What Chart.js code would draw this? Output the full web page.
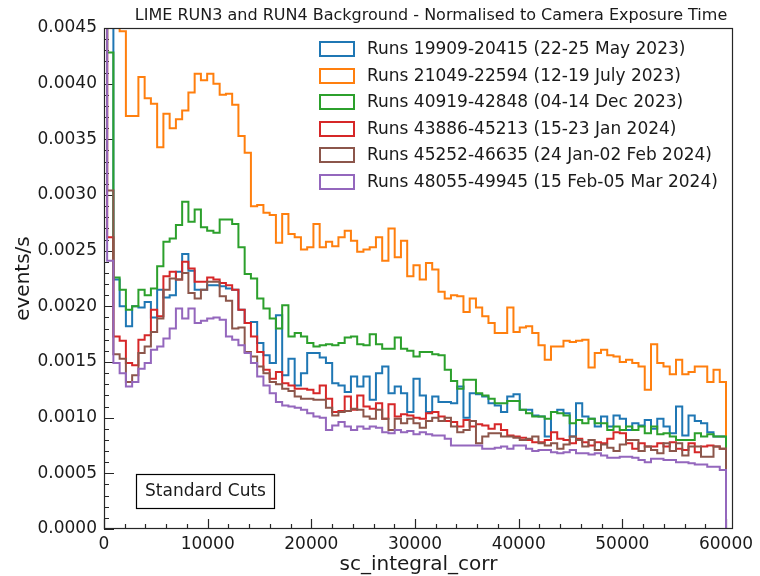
<!DOCTYPE html>
<html>
<head>
<meta charset="utf-8">
<script src="https://cdn.jsdelivr.net/npm/chart.js@4.4.1/dist/chart.umd.min.js"></script>
<style>
  html, body { margin: 0; padding: 0; background: #ffffff; }
  canvas { display: block; }
</style>
</head>
<body>
<canvas id="chart" width="760" height="576"></canvas>
<script>
// histogram binning (100 bins ending at 60000)
var binStart = -300;
var binWidth = 603;

var xTicks = [0, 10000, 20000, 30000, 40000, 50000, 60000];
var yTicks = [0, 0.0005, 0.001, 0.0015, 0.002, 0.0025, 0.003, 0.0035, 0.004, 0.0045];

var seriesLabels = [
  'Runs 19909-20415 (22-25 May 2023)',
  'Runs 21049-22594 (12-19 July 2023)',
  'Runs 40919-42848 (04-14 Dec 2023)',
  'Runs 43886-45213 (15-23 Jan 2024)',
  'Runs 45252-46635 (24 Jan-02 Feb 2024)',
  'Runs 48055-49945 (15 Feb-05 Mar 2024)'
];
var seriesColors = ['#1f77b4', '#ff7f0e', '#2ca02c', '#d62728', '#8c564b', '#9467bd'];

var runsMay2023 = [
  0.0060, 0.0050, 0.00224, 0.00200, 0.00182, 0.00200, 0.00199, 0.00204, 0.00190, 0.00215,
  0.00208, 0.00210, 0.00231, 0.00247, 0.00232, 0.00215, 0.00215, 0.00219, 0.00219, 0.00218,
  0.00216, 0.00215, 0.00197, 0.00185, 0.00186, 0.00167, 0.00156, 0.00149, 0.00192, 0.00138,
  0.00153, 0.00129, 0.00140, 0.00158, 0.00158, 0.00154, 0.00149, 0.00131, 0.00129, 0.00123,
  0.00137, 0.00128, 0.00137, 0.00116, 0.00140, 0.00146, 0.00122, 0.00128, 0.00122, 0.00105,
  0.00135, 0.00120, 0.00105, 0.00119, 0.00114, 0.00114, 0.00113, 0.00128, 0.00100, 0.00122,
  0.00121, 0.00119, 0.00113, 0.00111, 0.00105, 0.00119, 0.00121, 0.00107, 0.00107, 0.00102,
  0.00101, 0.00083, 0.00105, 0.00107, 0.00104, 0.00083, 0.00113, 0.00101, 0.00099, 0.00092,
  0.00101, 0.00092, 0.00102, 0.00099, 0.00089, 0.00095, 0.00093, 0.00098, 0.00090, 0.00099,
  0.00092, 0.00086, 0.00110, 0.00084, 0.00102, 0.00097, 0.00095, 0.00087, 0.00083, 0.00083
];
var runsJul2023 = [
  0.0060, 0.0055, 0.0050, 0.00447, 0.00371, 0.00371, 0.00406, 0.00387, 0.00382, 0.00343,
  0.00373, 0.00360, 0.00368, 0.00376, 0.00392, 0.00409, 0.00403, 0.00409, 0.00400, 0.00390,
  0.00391, 0.00381, 0.00353, 0.00338, 0.00290, 0.00291, 0.00284, 0.00282, 0.00257, 0.00283,
  0.00265, 0.00262, 0.00251, 0.00253, 0.00274, 0.00253, 0.00258, 0.00254, 0.00262, 0.00268,
  0.00259, 0.00249, 0.00251, 0.00253, 0.00262, 0.00241, 0.00270, 0.00244, 0.00259, 0.00227,
  0.00237, 0.00224, 0.00239, 0.00233, 0.00213, 0.00207, 0.00210, 0.00209, 0.00195, 0.00207,
  0.00199, 0.00191, 0.00185, 0.00176, 0.00176, 0.00199, 0.00177, 0.00181, 0.00182, 0.00176,
  0.00165, 0.00152, 0.00164, 0.00164, 0.00169, 0.00168, 0.00169, 0.00170, 0.00145, 0.00158,
  0.00161, 0.00156, 0.00155, 0.00150, 0.00152, 0.00149, 0.00146, 0.00125, 0.00166, 0.00149,
  0.00146, 0.00139, 0.00152, 0.00139, 0.00141, 0.00146, 0.00146, 0.00132, 0.00143, 0.00132
];
var runsDec2023 = [
  0.0060, 0.00428, 0.00226, 0.00215, 0.00197, 0.00200, 0.00215, 0.00210, 0.00216, 0.00236,
  0.00258, 0.00261, 0.00273, 0.00294, 0.00276, 0.00287, 0.00271, 0.00268, 0.00266, 0.00278,
  0.00278, 0.00274, 0.00253, 0.00229, 0.00225, 0.00207, 0.00198, 0.00189, 0.00180, 0.00201,
  0.00173, 0.00176, 0.00173, 0.00167, 0.00164, 0.00165, 0.00166, 0.00165, 0.00167, 0.00172,
  0.00173, 0.00166, 0.00165, 0.00175, 0.00166, 0.00162, 0.00162, 0.00172, 0.00162, 0.00160,
  0.00155, 0.00159, 0.00159, 0.00157, 0.00156, 0.00143, 0.00133, 0.00126, 0.00134, 0.00134,
  0.00122, 0.00120, 0.00117, 0.00113, 0.00113, 0.00115, 0.00115, 0.00107, 0.00104, 0.00101,
  0.00101, 0.00099, 0.00105, 0.00104, 0.00102, 0.00095, 0.00098, 0.00095, 0.00099, 0.00095,
  0.00095, 0.00089, 0.00092, 0.00089, 0.00092, 0.00089, 0.00092, 0.00086, 0.00092, 0.00085,
  0.00086, 0.00083, 0.00080, 0.00080, 0.00080, 0.00086, 0.00083, 0.00085, 0.00083, 0.00083
];
var runsJan2024 = [
  0.0060, 0.00262, 0.00173, 0.00169, 0.00149, 0.00147, 0.00170, 0.00174, 0.00197, 0.00191,
  0.00227, 0.00231, 0.00224, 0.00240, 0.00234, 0.00222, 0.00222, 0.00226, 0.00224, 0.00221,
  0.00219, 0.00215, 0.00197, 0.00185, 0.00173, 0.00159, 0.00143, 0.00135, 0.00141, 0.00131,
  0.00129, 0.00126, 0.00126, 0.00125, 0.00122, 0.00129, 0.00117, 0.00105, 0.00106, 0.00119,
  0.00107, 0.00120, 0.00110, 0.00108, 0.00113, 0.00099, 0.00112, 0.00101, 0.00103, 0.00102,
  0.00100, 0.00099, 0.00104, 0.00105, 0.00101, 0.00097, 0.00096, 0.00092, 0.00098, 0.00092,
  0.00094, 0.00093, 0.00090, 0.00094, 0.00089, 0.00084, 0.00083, 0.00082, 0.00080, 0.00078,
  0.00078, 0.00080, 0.00087, 0.00081, 0.00080, 0.00077, 0.00081, 0.00078, 0.00075, 0.00078,
  0.00077, 0.00081, 0.00087, 0.00086, 0.00077, 0.00072, 0.00077, 0.00074, 0.00074, 0.00077,
  0.00074, 0.00078, 0.00072, 0.00071, 0.00077, 0.00069, 0.00074, 0.00075, 0.00074, 0.00072
];
var runsFeb2024 = [
  0.0060, 0.00304, 0.00157, 0.00153, 0.00132, 0.00138, 0.00158, 0.00164, 0.00177, 0.00189,
  0.00215, 0.00225, 0.00224, 0.00230, 0.00212, 0.00207, 0.00215, 0.00222, 0.00222, 0.00209,
  0.00205, 0.00180, 0.00181, 0.00159, 0.00155, 0.00146, 0.00140, 0.00132, 0.00130, 0.00126,
  0.00124, 0.00119, 0.00117, 0.00117, 0.00116, 0.00116, 0.00109, 0.00102, 0.00105, 0.00106,
  0.00108, 0.00107, 0.00101, 0.00099, 0.00107, 0.00099, 0.00089, 0.00099, 0.00095, 0.00099,
  0.00095, 0.00091, 0.00097, 0.00100, 0.00097, 0.00100, 0.00092, 0.00087, 0.00089, 0.00097,
  0.00077, 0.00083, 0.00086, 0.00086, 0.00083, 0.00083, 0.00082, 0.00080, 0.00081, 0.00083,
  0.00077, 0.00075, 0.00077, 0.00072, 0.00076, 0.00083, 0.00080, 0.00074, 0.00080, 0.00071,
  0.00076, 0.00073, 0.00070, 0.00076, 0.00080, 0.00080, 0.00070, 0.00074, 0.00071, 0.00068,
  0.00077, 0.00070, 0.00077, 0.00066, 0.00074, 0.00074, 0.00065, 0.00065, 0.00074, 0.00072
];
var runsMar2024 = [
  0.0060, 0.00241, 0.00149, 0.00140, 0.00128, 0.00132, 0.00144, 0.00149, 0.00161, 0.00164,
  0.00171, 0.00180, 0.00198, 0.00189, 0.00198, 0.00185, 0.00187, 0.00189, 0.00190, 0.00188,
  0.00173, 0.00170, 0.00165, 0.00158, 0.00149, 0.00137, 0.00129, 0.00122, 0.00114, 0.00111,
  0.00110, 0.00109, 0.00107, 0.00104, 0.00101, 0.00100, 0.00089, 0.00093, 0.00096, 0.00092,
  0.00089, 0.00092, 0.00090, 0.00092, 0.00091, 0.00087, 0.00086, 0.00089, 0.00087, 0.00088,
  0.00085, 0.00087, 0.00085, 0.00084, 0.00084, 0.00081, 0.00075, 0.00075, 0.00075, 0.00075,
  0.00075, 0.00072, 0.00072, 0.00073, 0.00074, 0.00072, 0.00075, 0.00075, 0.00072, 0.00070,
  0.00071, 0.00071, 0.00069, 0.00068, 0.00069, 0.00071, 0.00068, 0.00068, 0.00067, 0.00068,
  0.00066, 0.00064, 0.00064, 0.00065, 0.00065, 0.00064, 0.00062, 0.00060, 0.00063, 0.00063,
  0.00062, 0.00062, 0.00060, 0.00060, 0.00059, 0.00058, 0.00058, 0.00056, 0.00056, 0.00053
];

var seriesValues = [runsMay2023, runsJul2023, runsDec2023, runsJan2024, runsFeb2024, runsMar2024];

var FONT = "'DejaVu Sans', 'Liberation Sans', sans-serif";
var TEXT_COLOR = '#1a1a1a';

function histPoints(values) {
  // each point sits on the left edge of its bin; the value holds until the next edge
  var points = values.map(function (value, index) {
    return { x: binStart + index * binWidth, y: value };
  });
  // the outline drops to zero at the last bin edge
  points.push({ x: binStart + values.length * binWidth, y: 0 });
  return points;
}

var decorPlugin = {
  id: 'decor',
  beforeDatasetsDraw: function (chart) {
    var ctx = chart.ctx;
    var xs = chart.scales.x;
    var ys = chart.scales.y;
    var area = chart.chartArea;
    var i, px;

    ctx.save();
    ctx.strokeStyle = '#262626';
    ctx.lineWidth = 1.2;
    ctx.beginPath();
    for (i = 0; i <= 30; i++) {
      px = Math.round(xs.getPixelForValue(i * 2000)) + 0.5;
      var len = (i % 5 === 0) ? 10 : 5;
      ctx.moveTo(px, area.bottom);
      ctx.lineTo(px, area.bottom - len);
    }
    for (i = 0; i <= 45; i++) {
      px = Math.round(ys.getPixelForValue(i * 0.0001)) + 0.5;
      var ylen = (i % 5 === 0) ? 10 : 5;
      ctx.moveTo(area.left, px);
      ctx.lineTo(area.left + ylen, px);
    }
    ctx.stroke();
    ctx.restore();
  },
  afterDatasetsDraw: function (chart) {
    var ctx = chart.ctx;
    var area = chart.chartArea;

    ctx.save();
    // frame
    ctx.strokeStyle = '#262626';
    ctx.lineWidth = 1.2;
    ctx.strokeRect(area.left + 0.5, area.top + 0.5, area.right - area.left - 1, area.bottom - area.top - 1);

    // legend
    ctx.font = '17px ' + FONT;
    ctx.textBaseline = 'middle';
    ctx.textAlign = 'left';
    seriesLabels.forEach(function (label, index) {
      var cy = 49 + index * 26.5;
      ctx.strokeStyle = seriesColors[index];
      ctx.lineWidth = 2;
      ctx.strokeRect(320, Math.round(cy) - 7, 34, 14);
      ctx.fillStyle = TEXT_COLOR;
      ctx.fillText(label, 367, cy + 1);
    });

    // cut annotation
    ctx.fillStyle = '#ffffff';
    ctx.fillRect(136, 474, 139, 34);
    ctx.strokeStyle = '#000000';
    ctx.lineWidth = 1.2;
    ctx.strokeRect(136.5, 474.5, 138, 34);
    ctx.fillStyle = TEXT_COLOR;
    ctx.textAlign = 'center';
    ctx.font = '17px ' + FONT;
    ctx.fillText('Standard Cuts', 205.5, 492);

    // titles
    ctx.font = '16px ' + FONT;
    ctx.textBaseline = 'alphabetic';
    ctx.fillText('LIME RUN3 and RUN4 Background - Normalised to Camera Exposure Time', 431, 20);

    ctx.font = '20px ' + FONT;
    ctx.fillText('sc_integral_corr', (area.left + area.right) / 2, 570);

    ctx.translate(29, (area.top + area.bottom) / 2);
    ctx.rotate(-Math.PI / 2);
    ctx.fillText('events/s', 0, 0);
    ctx.restore();
  }
};

var datasets = seriesValues.map(function (values, index) {
  return {
    label: seriesLabels[index],
    data: histPoints(values),
    borderColor: seriesColors[index],
    backgroundColor: seriesColors[index],
    borderWidth: 2,
    pointRadius: 0,
    stepped: 'before',
    fill: false,
    order: seriesValues.length - 1 - index
  };
});

new Chart(document.getElementById('chart'), {
  type: 'line',
  data: { datasets: datasets },
  plugins: [decorPlugin],
  options: {
    responsive: false,
    animation: false,
    events: [],
    layout: { padding: { left: 0, right: 27, top: 28, bottom: 0 } },
    plugins: {
      legend: { display: false },
      tooltip: { enabled: false }
    },
    scales: {
      x: {
        type: 'linear',
        min: 0,
        max: 60675,
        grid: { display: false, drawTicks: false },
        border: { display: false },
        afterBuildTicks: function (scale) {
          scale.ticks = xTicks.map(function (v) { return { value: v }; });
        },
        afterFit: function (scale) { scale.height = 47; },
        ticks: {
          padding: 5,
          maxRotation: 0,
          autoSkip: false,
          color: TEXT_COLOR,
          font: { family: FONT, size: 17 },
          callback: function (value) { return String(value); }
        }
      },
      y: {
        type: 'linear',
        min: 0,
        max: 0.0045,
        grid: { display: false, drawTicks: false },
        border: { display: false },
        afterBuildTicks: function (scale) {
          scale.ticks = yTicks.map(function (v) { return { value: v }; });
        },
        afterFit: function (scale) { scale.width = 104; },
        ticks: {
          padding: 7,
          autoSkip: false,
          color: TEXT_COLOR,
          font: { family: FONT, size: 17 },
          callback: function (value) { return Number(value).toFixed(4); }
        }
      }
    }
  }
});
</script>
</body>
</html>
